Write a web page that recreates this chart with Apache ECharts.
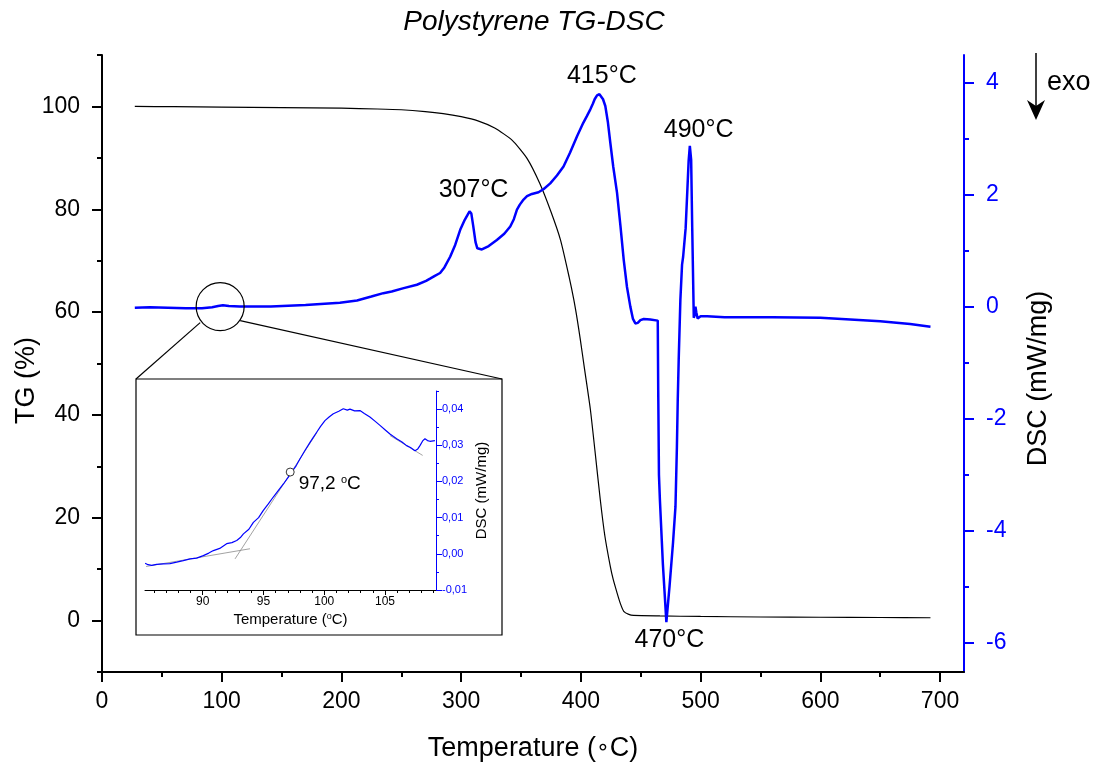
<!DOCTYPE html>
<html><head><meta charset="utf-8">
<script src="https://cdn.jsdelivr.net/npm/echarts@6/dist/echarts.min.js"></script>
<style>html,body{margin:0;padding:0;background:#fff}#c{width:1097px;height:764px}</style>
</head><body><div id="c"></div>
<script>
const FONT = 'Liberation Sans, Arial, sans-serif';

// ---- main TG curve ----
const tgTemp = [27.4,60,100,150,200,230,250,270,285,300,314,328,342.7,355,365.7,375,383,390.2,394,397,399.5,403,407.9,412,416.2,420,424.6,427,430.2,433,435.8,440,444,466,500,550,600,650,692];
const tgValue = [100.0,99.95,99.85,99.75,99.65,99.5,99.35,99.0,98.6,98.0,97.2,95.8,93.4,89.9,85.0,79.5,74.0,66.8,62.5,58.5,54.7,49,41.1,32.5,23.5,16.5,10.5,8,5.4,3.3,1.8,1.2,1.0,0.9,0.8,0.7,0.65,0.6,0.55];

// ---- main DSC curve ----
const dscTemp = [27.4,40,55,70,83.5,92,97,101,106,115,141,170,198.7,213,225,235,242,252,263,270.7,274,278,282.4,286,290.8,295,299.2,303,307,308.5,310,312,313.5,317.3,323,329.8,336,341,344,346.6,349,352.1,355,359.1,364.6,369,374.4,380,385.5,391,396.8,402,405,407.9,410,411.5,413.5,415.5,417,418.5,420.4,422.5,424.6,427,430.2,433,435.8,438.5,441.3,443.5,445.5,447.5,449.7,452.5,458,464.2,464.6,465.2,466,468.5,471.4,474,477,479,480.2,480.9,481.7,483.1,484.5,485.4,486.8,487.5,488.8,490,491,492.1,493,494.3,495,495.7,496.4,497.5,500,505.5,520,541.7,560,600,650,675,692];
const dscValue = [-0.02,-0.01,-0.02,-0.03,-0.03,-0.01,0.01,0.025,0.01,0,0,0.03,0.07,0.11,0.18,0.24,0.27,0.33,0.39,0.46,0.50,0.55,0.60,0.70,0.89,1.10,1.37,1.55,1.70,1.66,1.45,1.15,1.04,1.02,1.08,1.19,1.30,1.43,1.56,1.73,1.82,1.91,1.97,2.01,2.04,2.10,2.20,2.34,2.50,2.75,3.04,3.28,3.40,3.52,3.62,3.70,3.77,3.79,3.76,3.70,3.58,3.30,2.92,2.50,2.03,1.45,0.83,0.35,0,-0.22,-0.30,-0.29,-0.24,-0.22,-0.23,-0.25,-1.5,-3.0,-3.45,-4.6,-5.63,-5.0,-4.2,-3.57,-2.5,-1.67,-0.95,0.12,0.75,0.89,0.92,1.4,2.02,2.6,2.87,2.62,1.4,-0.20,-0.15,0,-0.1,-0.21,-0.17,-0.17,-0.19,-0.19,-0.19,-0.20,-0.26,-0.31,-0.36];

// ---- peak annotations ----
const peakText = ['307°C','415°C','490°C','470°C'];
const peakTemp = [307, 415, 490, 471.4];
const peakDsc = [1.70, 3.79, 2.87, -5.63];

// ---- main axes ticks ----
const xTicks = [0,50,100,150,200,250,300,350,400,450,500,550,600,650,700];
const xLabels = [0,100,200,300,400,500,600,700];
const tgTicks = [-10,0,10,20,30,40,50,60,70,80,90,100,110];
const tgLabels = [0,20,40,60,80,100];
const dscTicks = [-6,-5,-4,-3,-2,-1,0,1,2,3,4];
const dscLabels = [-6,-4,-2,0,2,4];

// ---- inset curve ----
const insetTemp = [85.26,85.5,85.8,86.2,86.76,87.3,87.86,88.4,88.96,89.5,90.05,90.5,90.88,91.4,91.97,92.4,92.8,93.1,93.35,93.8,94.17,94.6,94.99,95.4,95.81,96.2,96.64,97.0,97.32,97.7,98.0,98.4,98.83,99.1,99.38,99.7,100.06,100.4,100.75,101.2,101.57,101.9,102.12,102.5,102.94,103.3,103.76,104.2,104.59,105.0,105.41,105.7,105.96,106.4,106.78,107.1,107.47,107.7,107.88,108.1,108.29,108.5,108.7,109.11];
const insetValue = [-0.0026,-0.0030,-0.0032,-0.0029,-0.0028,-0.0027,-0.0023,-0.0019,-0.0014,-0.0012,-0.0005,0.0002,0.0009,0.0015,0.0028,0.0031,0.0037,0.0045,0.0055,0.0068,0.0087,0.0100,0.0120,0.0138,0.0157,0.0174,0.0193,0.0210,0.0226,0.0244,0.0262,0.0285,0.0308,0.0322,0.0336,0.0352,0.0368,0.0378,0.0387,0.0394,0.0401,0.0397,0.0400,0.0395,0.0396,0.0388,0.0378,0.0366,0.0355,0.0343,0.0331,0.0324,0.0318,0.0309,0.0299,0.0294,0.0285,0.0290,0.0299,0.0312,0.0318,0.0313,0.0311,0.0313];
const tangentBase = [[85.34,-0.0035],[93.89,0.0014]];
const tangentSteep = [[92.66,-0.0014],[99.4,0.0335]];
const tangentRight = [[105.41,0.0327],[108.1,0.0272]];
const onsetPoint = [97.2, 0.0226];
const onsetText = '97,2 ';
const insetXTicks = [86,87,88,89,90,91,92,93,94,95,96,97,98,99,100,101,102,103,104,105,106,107,108,109];
const insetXLabels = [90,95,100,105];
const insetYTicks = [-0.01,-0.005,0,0.005,0.01,0.015,0.02,0.025,0.03,0.035,0.04,0.045];
const insetYLabels = [-0.01,0,0.01,0.02,0.03,0.04];
const zoomCenter = [98.7, 0];

const zip = (a,b)=>a.map((v,i)=>[v,b[i]]);
const BLUE = '#0000ff';

const chart = echarts.init(document.getElementById('c'), null, {renderer:'canvas'});

const option = {
  animation: false,
  backgroundColor: '#fff',
  textStyle: {fontFamily: FONT},
  grid: [
    {left: 102, right: 133, top: 55, bottom: 92, outerBoundsMode:'none', containLabel:false},
    {left: 145, top: 391, width: 291, height: 199, outerBoundsMode:'none', containLabel:false}
  ],
  xAxis: [
    {gridIndex:0, type:'value', min:0, max:720, position:'bottom',
     axisLine:{onZero:false, lineStyle:{color:'#000', width:2}},
     axisTick:{customValues:xTicks, length:5, lineStyle:{color:'#000', width:2}},
     axisLabel:{customValues:xLabels, fontSize:23, color:'#000', margin:18, fontFamily:FONT},
     splitLine:{show:false},
     name:'Temperature ({r|\u2218}C)', nameLocation:'middle', nameGap:63,
     nameTextStyle:{fontSize:27, color:'#000', fontFamily:FONT,
       rich:{r:{fontSize:22, color:'#000', fontFamily:'DejaVu Sans'}}}},
    {gridIndex:0, type:'value', min:0, max:720, position:'bottom',
     axisLine:{show:false, onZero:false},
     axisTick:{customValues:xLabels, length:10, lineStyle:{color:'#000', width:2}},
     axisLabel:{show:false}, splitLine:{show:false}},
    {gridIndex:1, type:'value', min:85.25, max:109.2, position:'bottom', z:5,
     axisLine:{onZero:false, lineStyle:{color:'#000', width:1}},
     axisTick:{customValues:insetXTicks, length:3, lineStyle:{color:'#000', width:1}},
     axisLabel:{customValues:insetXLabels, fontSize:12, color:'#000', margin:6, fontFamily:FONT},
     splitLine:{show:false},
     name:'Temperature ({s|o}C)', nameLocation:'middle', nameGap:22,
     nameTextStyle:{fontSize:15, color:'#000', fontFamily:FONT,
       rich:{s:{fontSize:9, verticalAlign:'top', fontFamily:FONT, color:'#000'}}}},
    {gridIndex:1, type:'value', min:85.25, max:109.2, position:'bottom', z:5,
     axisLine:{show:false, onZero:false},
     axisTick:{customValues:insetXLabels, length:5, lineStyle:{color:'#000', width:1}},
     axisLabel:{show:false}, splitLine:{show:false}}
  ],
  yAxis: [
    {gridIndex:0, type:'value', min:-10, max:110, position:'left',
     axisLine:{show:true, onZero:false, lineStyle:{color:'#000', width:2}},
     axisTick:{show:true, customValues:tgTicks, length:5, lineStyle:{color:'#000', width:2}},
     axisLabel:{customValues:tgLabels, fontSize:23, color:'#000', margin:22, fontFamily:FONT},
     splitLine:{show:false},
     name:'TG (%)', nameLocation:'middle', nameGap:62, nameRotate:90, nameMoveOverlap:false,
     nameTextStyle:{fontSize:27, color:'#000', fontFamily:FONT, padding:[0,34,0,0]}},
    {gridIndex:0, type:'value', min:-10, max:110, position:'left',
     axisLine:{show:false, onZero:false},
     axisTick:{show:true, customValues:tgLabels, length:10, lineStyle:{color:'#000', width:2}},
     axisLabel:{show:false}, splitLine:{show:false}},
    {gridIndex:0, type:'value', min:-6.52, max:4.49, position:'right',
     axisLine:{show:true, onZero:false, lineStyle:{color:BLUE, width:2}},
     axisTick:{show:true, customValues:dscTicks, length:5, lineStyle:{color:BLUE, width:2}},
     axisLabel:{customValues:dscLabels, fontSize:23, color:BLUE, margin:22, fontFamily:FONT},
     splitLine:{show:false},
     name:'DSC (mW/mg)', nameLocation:'middle', nameGap:61, nameRotate:90, nameMoveOverlap:false,
     nameTextStyle:{fontSize:27, color:'#000', fontFamily:FONT, padding:[0,30,0,0]}},
    {gridIndex:0, type:'value', min:-6.52, max:4.49, position:'right',
     axisLine:{show:false, onZero:false},
     axisTick:{show:true, customValues:dscLabels, length:10, lineStyle:{color:BLUE, width:2}},
     axisLabel:{show:false}, splitLine:{show:false}},
    {gridIndex:1, type:'value', min:-0.01, max:0.045, position:'right', z:5,
     axisLine:{show:true, onZero:false, lineStyle:{color:BLUE, width:1}},
     axisTick:{show:true, customValues:insetYTicks, length:3, lineStyle:{color:BLUE, width:1}},
     axisLabel:{customValues:insetYLabels, fontSize:11, color:BLUE, margin:6, fontFamily:FONT,
       formatter:v=>v.toFixed(2).replace('.',',')},
     splitLine:{show:false},
     name:'DSC (mW/mg)', nameLocation:'middle', nameGap:38, nameRotate:90,
     nameTextStyle:{fontSize:15, color:'#000', fontFamily:FONT}},
    {gridIndex:1, type:'value', min:-0.01, max:0.045, position:'right', z:5,
     axisLine:{show:false, onZero:false},
     axisTick:{show:true, customValues:insetYLabels, length:6, lineStyle:{color:BLUE, width:1}},
     axisLabel:{show:false}, splitLine:{show:false}}
  ],
  series: [
    {type:'line', name:'TG', xAxisIndex:0, yAxisIndex:0, data:zip(tgTemp,tgValue),
     showSymbol:false, smooth:0.2,
     lineStyle:{color:'#000', width:1.2}, z:3},
    {type:'line', name:'DSC', xAxisIndex:0, yAxisIndex:2, data:zip(dscTemp,dscValue),
     showSymbol:false, lineStyle:{color:BLUE, width:2.5}, z:4,
     markPoint:{symbol:'circle', symbolSize:1, silent:true,
       itemStyle:{color:'rgba(0,0,0,0)'},
       label:{show:true, position:'inside', formatter:'{b}', fontSize:25, color:'#000', fontFamily:FONT},
       data: peakText.map((t,i)=>({name:t, coord:[peakTemp[i], peakDsc[i]],
         label:{offset:[[4,-21],[3,-18],[10,-16],[3,18]][i]}}))}},
    {type:'line', xAxisIndex:2, yAxisIndex:4, data:tangentBase, showSymbol:false,
     lineStyle:{color:'#8a8a8a', width:0.8}, z:6},
    {type:'line', xAxisIndex:2, yAxisIndex:4, data:tangentSteep, showSymbol:false,
     lineStyle:{color:'#8a8a8a', width:0.8}, z:6},
    {type:'line', xAxisIndex:2, yAxisIndex:4, data:tangentRight, showSymbol:false,
     lineStyle:{color:'#8a8a8a', width:0.8}, z:6},
    {type:'line', xAxisIndex:2, yAxisIndex:4, data:zip(insetTemp,insetValue),
     showSymbol:false, lineStyle:{color:BLUE, width:1.2}, z:7},
    {type:'scatter', xAxisIndex:2, yAxisIndex:4, data:[onsetPoint], symbol:'circle', symbolSize:8,
     itemStyle:{color:'#fff', borderColor:'#333', borderWidth:1, opacity:1}, z:8,
     label:{show:true, position:'right', distance:4, offset:[0,12], opacity:1,
       formatter: onsetText + '{s|o}C', fontSize:19, color:'#000', fontFamily:FONT,
       rich:{s:{fontSize:11, verticalAlign:'top', color:'#000', fontFamily:FONT}}}}
  ]
};
chart.setOption(option);

const cx = chart.convertToPixel({xAxisIndex:0}, zoomCenter[0]);
const cy = chart.convertToPixel({yAxisIndex:2}, zoomCenter[1]);
const box = {x:136, y:379, w:366, h:256};
chart.setOption({
  graphic: [
    {type:'rect', z:1, shape:{x:box.x, y:box.y, width:box.w, height:box.h},
     style:{fill:'#fff', stroke:'#000', lineWidth:1.2}},
    {type:'circle', z:6, shape:{cx:cx, cy:cy, r:24}, style:{fill:'none', stroke:'#000', lineWidth:1.2}},
    {type:'line', z:6, shape:{x1:cx-20, y1:cy+16, x2:box.x, y2:box.y}, style:{stroke:'#000', lineWidth:1.2}},
    {type:'line', z:6, shape:{x1:cx+20, y1:cy+14, x2:box.x+box.w, y2:box.y}, style:{stroke:'#000', lineWidth:1.2}},
    {type:'text', z:6, x:534, y:22, style:{text:'Polystyrene TG-DSC', font:'italic 28px ' + FONT, fill:'#000', textAlign:'center', textVerticalAlign:'middle'}},
    {type:'line', z:6, shape:{x1:1036, y1:53, x2:1036, y2:110}, style:{stroke:'#000', lineWidth:1.5}},
    {type:'polygon', z:6, shape:{points:[[1036,120],[1027,100],[1036,106],[1045,100]]}, style:{fill:'#000'}},
    {type:'text', z:6, x:1047, y:83, style:{text:'exo', font:'27px ' + FONT, fill:'#000', textAlign:'left', textVerticalAlign:'middle'}}
  ]
});
</script>
</body></html>
